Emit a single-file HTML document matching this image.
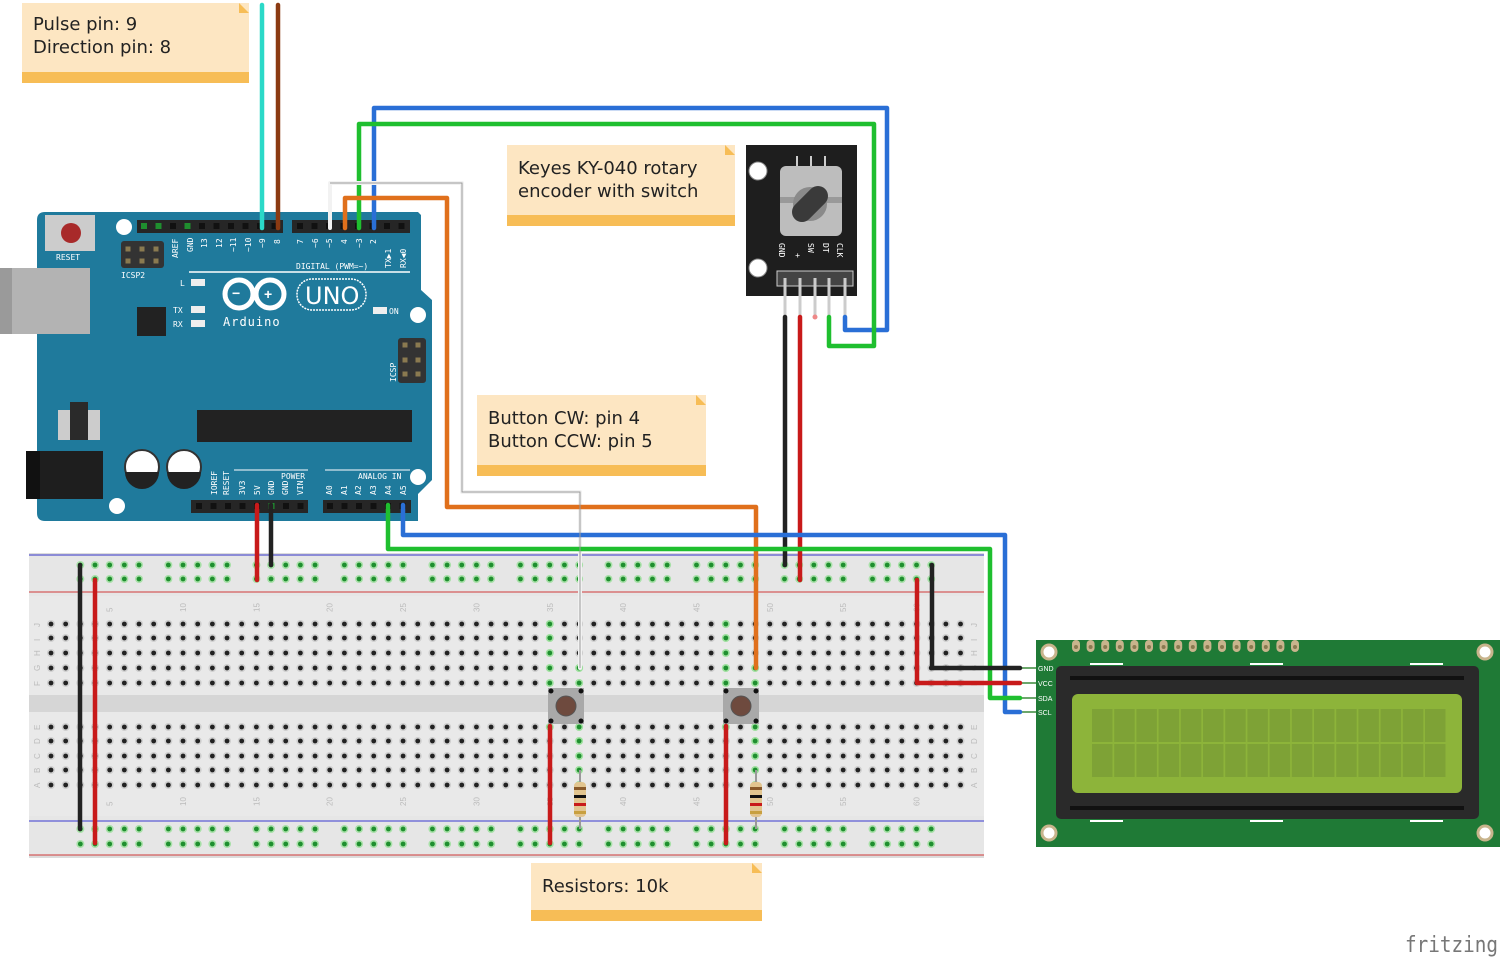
<!DOCTYPE html>
<html><head><meta charset="utf-8"><style>
html,body{margin:0;padding:0;background:#fff;width:1500px;height:959px;overflow:hidden}
svg{display:block}
.nt{font-family:"DejaVu Sans","Liberation Sans",sans-serif;font-size:18px;fill:#222}
.pl{font-family:"DejaVu Sans Mono","Liberation Mono",monospace;font-size:8px;fill:#fff}
.bl{font-family:"Liberation Sans",sans-serif;font-size:8px;fill:#bbb}
</style></head><body>
<svg id="s" width="1500" height="959" viewBox="0 0 1500 959" xmlns="http://www.w3.org/2000/svg">
<rect x="29" y="553" width="955" height="305" fill="#dcdcdc"/>
<rect x="29" y="556" width="955" height="299" fill="#e6e6e6"/>
<rect x="29" y="596" width="955" height="220" fill="#e9e9e9"/>
<rect x="29" y="695" width="955" height="17" fill="#d6d6d6"/>
<line x1="29" y1="555" x2="984" y2="555" stroke="#3b3bd0" stroke-width="1"/>
<line x1="29" y1="592" x2="984" y2="592" stroke="#d03b3b" stroke-width="1"/>
<line x1="29" y1="821" x2="984" y2="821" stroke="#3b3bd0" stroke-width="1"/>
<line x1="29" y1="855" x2="984" y2="855" stroke="#d03b3b" stroke-width="1"/>
<g id="holes"></g>
<g id="lbl"></g>

<path d="M45 212 H418 L421 215 V290 L432 300 V480 L418 494 V521 H45 Q37 521 37 513 V220 Q37 212 45 212Z" fill="#1f7a9c"/>
<rect x="0" y="268" width="90" height="66" fill="#b3b3b3"/>
<rect x="0" y="268" width="12" height="66" fill="#9a9a9a"/>
<rect x="26" y="451" width="77" height="48" fill="#1e1e1e"/>
<rect x="26" y="451" width="14" height="48" fill="#111"/>
<rect x="45" y="215" width="50" height="36" fill="#ccc"/>
<circle cx="71" cy="233" r="10" fill="#a82a2a"/>
<text x="56" y="260" class="pl">RESET</text>
<circle cx="124" cy="227" r="8" fill="#fff"/>
<circle cx="418" cy="315" r="8" fill="#fff"/>
<circle cx="418" cy="477" r="8" fill="#fff"/>
<circle cx="117" cy="506" r="8" fill="#fff"/>
<rect x="121" y="241" width="43" height="27" rx="3" fill="#333"/>
<text x="121" y="278" class="pl">ICSP2</text>
<rect x="137" y="220" width="146" height="13" fill="#262626"/>
<rect x="292" y="220" width="118" height="13" fill="#262626"/>
<line x1="189" y1="272" x2="410" y2="272" stroke="#fff" stroke-width="1.5"/>
<text x="296" y="269" class="pl" font-size="7">DIGITAL (PWM=~)</text>
<g class="pl" font-size="8">
<text transform="translate(178,258) rotate(-90)">AREF</text>
<text transform="translate(193,252) rotate(-90)">GND</text>
<text transform="translate(207,248) rotate(-90)">13</text>
<text transform="translate(222,248) rotate(-90)">12</text>
<text transform="translate(236,252) rotate(-90)">~11</text>
<text transform="translate(251,252) rotate(-90)">~10</text>
<text transform="translate(265,248) rotate(-90)">~9</text>
<text transform="translate(280,244) rotate(-90)">8</text>
<text transform="translate(303,244) rotate(-90)">7</text>
<text transform="translate(318,248) rotate(-90)">~6</text>
<text transform="translate(332,248) rotate(-90)">~5</text>
<text transform="translate(347,244) rotate(-90)">4</text>
<text transform="translate(362,248) rotate(-90)">~3</text>
<text transform="translate(376,244) rotate(-90)">2</text>
<text transform="translate(391,268) rotate(-90)">TX▶1</text>
<text transform="translate(406,268) rotate(-90)">RX◀0</text>
</g>
<text x="180" y="286" class="pl" font-size="9">L</text>
<rect x="191" y="279" width="14" height="7" fill="#eee"/>
<text x="173" y="313" class="pl" font-size="9">TX</text>
<rect x="191" y="306" width="14" height="7" fill="#eee"/>
<text x="173" y="327" class="pl" font-size="9">RX</text>
<rect x="191" y="320" width="14" height="7" fill="#eee"/>
<rect x="137" y="307" width="29" height="29" fill="#222"/>
<g fill="none" stroke="#fff" stroke-width="5">
<circle cx="239" cy="294" r="14"/><circle cx="270" cy="294" r="14"/></g>
<text x="232" y="298" fill="#fff" font-size="14" font-family="Liberation Sans" font-weight="bold">−</text>
<text x="264" y="299" fill="#fff" font-size="14" font-family="Liberation Sans" font-weight="bold">+</text>
<rect x="297" y="279" width="69" height="31" rx="15" fill="none" stroke="#fff" stroke-width="1.5" stroke-dasharray="2 1"/>
<text x="305" y="304" fill="#fff" font-size="24" font-family="DejaVu Sans">UNO</text>
<text x="223" y="326" fill="#fff" font-size="12" font-family="DejaVu Sans Mono" letter-spacing="1">Arduino</text>
<rect x="373" y="307" width="14" height="7" fill="#eee"/>
<text x="389" y="314" class="pl" font-size="9">ON</text>
<rect x="398" y="338" width="28" height="45" rx="3" fill="#333"/>
<text transform="translate(396,382) rotate(-90)" class="pl">ICSP</text>
<rect x="58" y="410" width="42" height="30" fill="#ccc"/><rect x="70" y="402" width="18" height="38" fill="#2a2a2a"/>
<rect x="197" y="410" width="215" height="32" fill="#222"/>
<circle cx="142" cy="467" r="17" fill="#fff" stroke="#333" stroke-width="2"/>
<path d="M125 472 A17 17 0 0 0 159 472Z" fill="#222"/>
<circle cx="184" cy="467" r="17" fill="#fff" stroke="#333" stroke-width="2"/>
<path d="M167 472 A17 17 0 0 0 201 472Z" fill="#222"/>
<line x1="234" y1="470" x2="308" y2="470" stroke="#fff" stroke-width="1"/>
<line x1="325" y1="470" x2="410" y2="470" stroke="#fff" stroke-width="1"/>
<text x="281" y="479" class="pl">POWER</text>
<text x="358" y="479" class="pl">ANALOG IN</text>
<g class="pl" font-size="7">
<text transform="translate(217,495) rotate(-90)">IOREF</text>
<text transform="translate(229,495) rotate(-90)">RESET</text>
<text transform="translate(245,495) rotate(-90)">3V3</text>
<text transform="translate(260,495) rotate(-90)">5V</text>
<text transform="translate(274,495) rotate(-90)">GND</text>
<text transform="translate(288,495) rotate(-90)">GND</text>
<text transform="translate(303,495) rotate(-90)">VIN</text>
<text transform="translate(332,495) rotate(-90)">A0</text>
<text transform="translate(347,495) rotate(-90)">A1</text>
<text transform="translate(361,495) rotate(-90)">A2</text>
<text transform="translate(376,495) rotate(-90)">A3</text>
<text transform="translate(391,495) rotate(-90)">A4</text>
<text transform="translate(406,495) rotate(-90)">A5</text>
</g>
<rect x="191" y="500" width="117" height="13" fill="#262626"/>
<rect x="323" y="500" width="88" height="13" fill="#262626"/>
<g id="pins"></g>

<rect x="746" y="145" width="111" height="151" fill="#1e1e1e"/>
<circle cx="758" cy="171" r="9" fill="#fff" stroke="#888"/>
<circle cx="758" cy="268" r="9" fill="#fff" stroke="#888"/>
<rect x="780" y="166" width="62" height="70" rx="6" fill="#bdbdbd"/>
<line x1="797" y1="156" x2="797" y2="166" stroke="#ccc" stroke-width="2"/>
<line x1="811" y1="156" x2="811" y2="166" stroke="#ccc" stroke-width="2"/>
<line x1="825" y1="156" x2="825" y2="166" stroke="#ccc" stroke-width="2"/>
<rect x="780" y="197" width="62" height="6" fill="#999"/>
<circle cx="810" cy="204" r="17" fill="#8a8a8a"/>
<line x1="802" y1="212" x2="818" y2="196" stroke="#3a3a3a" stroke-width="20" stroke-linecap="round"/>
<g class="pl" font-size="10">
<text transform="translate(779,243) rotate(90)">GND</text>
<text transform="translate(795,253) rotate(90)">+</text>
<text transform="translate(808,243) rotate(90)">SW</text>
<text transform="translate(823,243) rotate(90)">DT</text>
<text transform="translate(837,243) rotate(90)">CLK</text>
</g>
<rect x="777" y="271" width="76" height="15" fill="#444" stroke="#ccc"/>
<g stroke="#ccc" stroke-width="3">
<line x1="785" y1="278" x2="785" y2="316"/><line x1="800" y1="278" x2="800" y2="316"/>
<line x1="815" y1="278" x2="815" y2="316"/><line x1="829" y1="278" x2="829" y2="316"/>
<line x1="845" y1="278" x2="845" y2="316"/></g>
<circle cx="815" cy="317" r="2.5" fill="#e88"/>

<rect x="1036" y="640" width="464" height="207" fill="#1f7a36"/>
<circle cx="1049" cy="652" r="7" fill="#fff" stroke="#c8b48c" stroke-width="3"/>
<circle cx="1485" cy="652" r="7" fill="#fff" stroke="#c8b48c" stroke-width="3"/>
<circle cx="1049" cy="833" r="7" fill="#fff" stroke="#c8b48c" stroke-width="3"/>
<circle cx="1485" cy="833" r="7" fill="#fff" stroke="#c8b48c" stroke-width="3"/>
<g id="lcdpins"></g>
<rect x="1056" y="666" width="423" height="153" rx="5" fill="#2a2a2a"/>
<rect x="1070" y="676" width="394" height="4" fill="#111"/>
<rect x="1070" y="806" width="394" height="4" fill="#111"/>
<rect x="1072" y="694" width="390" height="99" rx="6" fill="#8db43a"/>
<g id="cells"></g>
<rect x="1090" y="663" width="33" height="2" fill="#fff"/><rect x="1250" y="663" width="33" height="2" fill="#fff"/><rect x="1410" y="663" width="33" height="2" fill="#fff"/>
<rect x="1090" y="820" width="33" height="2" fill="#fff"/><rect x="1250" y="820" width="33" height="2" fill="#fff"/><rect x="1410" y="820" width="33" height="2" fill="#fff"/>
<g font-family="Liberation Sans" font-size="7" fill="#fff">
<text x="1038" y="671">GND</text><text x="1038" y="686">VCC</text><text x="1038" y="701">SDA</text><text x="1038" y="715">SCL</text></g>
<g stroke="#3a8a3a" stroke-width="1.5">
<line x1="1018" y1="668" x2="1036" y2="668"/><line x1="1018" y1="683" x2="1036" y2="683"/>
<line x1="1018" y1="698" x2="1036" y2="698"/><line x1="1018" y1="712" x2="1036" y2="712"/></g>

<rect x="548" y="688" width="36" height="36" fill="#a9a9a9"/>
<circle cx="566" cy="706" r="10" fill="#6e4a3e" stroke="#555"/>
<circle cx="551" cy="691" r="2.5" fill="#111"/><circle cx="581" cy="691" r="2.5" fill="#111"/><circle cx="551" cy="721" r="2.5" fill="#111"/><circle cx="581" cy="721" r="2.5" fill="#111"/>
<rect x="723" y="688" width="36" height="36" fill="#a9a9a9"/>
<circle cx="741" cy="706" r="10" fill="#6e4a3e" stroke="#555"/>
<circle cx="726" cy="691" r="2.5" fill="#111"/><circle cx="756" cy="691" r="2.5" fill="#111"/><circle cx="726" cy="721" r="2.5" fill="#111"/><circle cx="756" cy="721" r="2.5" fill="#111"/>
<g id="res"></g>

<g fill="none" stroke-width="4.5" stroke-linejoin="round" stroke-linecap="round">
<polyline points="262,5 262,228" stroke="#2bd9c8"/>
<polyline points="278,5 278,228" stroke="#8b3a12"/>
<polyline points="374,228 374,108 887,108 887,330 845,330 845,317" stroke="#2a6fd6"/>
<polyline points="359,228 359,124 874,124 874,346 829,346 829,317" stroke="#1fbf2f"/>
<polyline points="330,228 330,183 462,183 462,492 580,492 580,668" stroke="#f2f2f2" stroke-width="4"/>
<polyline points="345,228 345,198 447,198 447,507 756,507 756,668" stroke="#e0701c"/>
<polyline points="785,317 785,565" stroke="#222"/>
<polyline points="800,317 800,580" stroke="#c81a1a"/>
<polyline points="257,505 257,580" stroke="#c81a1a"/>
<polyline points="271,505 271,565" stroke="#222"/>
<polyline points="403,505 403,535 1005,535 1005,712 1020,712" stroke="#2a6fd6"/>
<polyline points="388,505 388,549 990,549 990,698 1020,698" stroke="#1fbf2f"/>
<polyline points="932,565 932,668 1020,668" stroke="#222"/>
<polyline points="917,580 917,683 1020,683" stroke="#c81a1a"/>
<polyline points="80,565 80,829" stroke="#222"/>
<polyline points="95,580 95,843" stroke="#c81a1a"/>
<polyline points="550,726 550,843" stroke="#c81a1a"/>
<polyline points="726,726 726,843" stroke="#c81a1a"/>
</g>
<g fill="none" stroke="#999" stroke-width="1">
<polyline points="330,183 462,183 462,492 580,492 580,668"/></g>

<g id="notes"></g>
<text x="1405" y="952" font-family="DejaVu Sans Mono,Liberation Mono,monospace" font-size="22" fill="#777" textLength="93" lengthAdjust="spacingAndGlyphs">fritzing</text>
</svg>
<script>
var NS="http://www.w3.org/2000/svg";
function el(p,t,a){var e=document.createElementNS(NS,t);for(var k in a)e.setAttribute(k,a[k]);p.appendChild(e);return e;}
var H=document.getElementById("holes");
function cx(c){return 51+(c-1)*14.67;}
var upper=[624,638,653,668,683],lower=[727,741,756,770,785];
for(var c=1;c<=63;c++){
 var x=cx(c);
 upper.forEach(function(y,i){var g=(c==35)||(c==37&&i>=3)||(c==47)||(c==49&&i>=3);
  el(H,"circle",{cx:x,cy:y,r:4,fill:g?"#9ee09e":"#cfcfcf"});el(H,"circle",{cx:x,cy:y,r:2.4,fill:g?"#1f8f2f":"#222"});});
 lower.forEach(function(y,i){var g=(c==35&&i==0)||(c==37)||(c==47&&i==0)||(c==49);
  el(H,"circle",{cx:x,cy:y,r:4,fill:g?"#9ee09e":"#cfcfcf"});el(H,"circle",{cx:x,cy:y,r:2.4,fill:g?"#1f8f2f":"#222"});});
 if(c>=3&&c<=61&&((c-3)%6)!=5){
  [565,579,829,844].forEach(function(y){el(H,"circle",{cx:x,cy:y,r:4,fill:"#a8e0a8"});el(H,"circle",{cx:x,cy:y,r:2.4,fill:"#1f8f2f"});});
 }
}
var L=document.getElementById("lbl");
[5,10,15,20,25,30,35,40,45,50,55,60].forEach(function(n){
 [612,806].forEach(function(y){var t=el(L,"text",{x:0,y:0,"class":"bl",transform:"translate("+(cx(n)+3)+","+y+") rotate(-90)"});t.textContent=n;});});
"JIHGF".split("").forEach(function(ch,i){[40,977].forEach(function(x){var t=el(L,"text",{"class":"bl",transform:"translate("+x+","+(upper[i]+3)+") rotate(-90)"});t.textContent=ch;});});
"EDCBA".split("").forEach(function(ch,i){[40,977].forEach(function(x){var t=el(L,"text",{"class":"bl",transform:"translate("+x+","+(lower[i]+3)+") rotate(-90)"});t.textContent=ch;});});
var P=document.getElementById("pins");
function pin(x,y,g){el(P,"rect",{x:x-3,y:y-3,width:6,height:6,fill:g?"#1f8f2f":"#111"});}
for(var i=0;i<10;i++)pin(144+i*14.5,226,i==0||i==1||i==3);
for(var i=0;i<8;i++)pin(300+i*14.5,226,false);
for(var i=0;i<8;i++)pin(199+i*14.5,506,i==5);
for(var i=0;i<6;i++)pin(330+i*14.5,506,false);
[[128,249],[142,249],[156,249],[128,261],[142,261],[156,261],[405,345],[418,345],[405,360],[418,360],[405,374],[418,374]].forEach(function(p){el(P,"rect",{x:p[0]-2.5,y:p[1]-2.5,width:5,height:5,fill:"#8a7a50"});});
var LP=document.getElementById("lcdpins");
for(var i=0;i<16;i++){var x=1076+i*14.6;el(LP,"rect",{x:x-4,y:640,width:8,height:12,rx:4,fill:"#c8b48c"});el(LP,"circle",{cx:x,cy:647,r:2,fill:"#8a7a50"});}
var C=document.getElementById("cells");
for(var r=0;r<2;r++)for(var i=0;i<16;i++)el(C,"rect",{x:1092+i*22.2,y:709+r*35,width:20.5,height:33,fill:"#7ea236"});
var R=document.getElementById("res");
[580,756].forEach(function(x){el(R,"line",{x1:x,y1:770,x2:x,y2:829,stroke:"#999","stroke-width":2});
 el(R,"rect",{x:x-6,y:782,width:12,height:35,rx:4,fill:"#e2c58f"});
 [[787,"#8a5a2a"],[795,"#111"],[803,"#c81a1a"],[811,"#c8a040"]].forEach(function(b){el(R,"rect",{x:x-6,y:b[0],width:12,height:3,fill:b[1]});});});
var N=document.getElementById("notes");
function note(x,y,w,h,lines,ty){el(N,"rect",{x:x,y:y,width:w,height:h,fill:"#fde6c2"});
 el(N,"rect",{x:x,y:y+h-11,width:w,height:11,fill:"#f7bd56"});
 el(N,"path",{d:"M"+(x+w-10)+" "+y+" L"+(x+w)+" "+(y+10)+" L"+(x+w-10)+" "+(y+10)+"Z",fill:"#f7bd56"});
 lines.forEach(function(s,i){var t=el(N,"text",{x:x+11,y:y+ty+i*23,"class":"nt"});t.textContent=s;});}
note(22,3,227,80,["Pulse pin: 9","Direction pin: 8"],27);
note(507,145,228,81,["Keyes KY-040 rotary","encoder with switch"],29);
note(477,395,229,81,["Button CW: pin 4","Button CCW: pin 5"],29);
note(531,863,231,58,["Resistors: 10k"],29);
</script>
</body></html>
